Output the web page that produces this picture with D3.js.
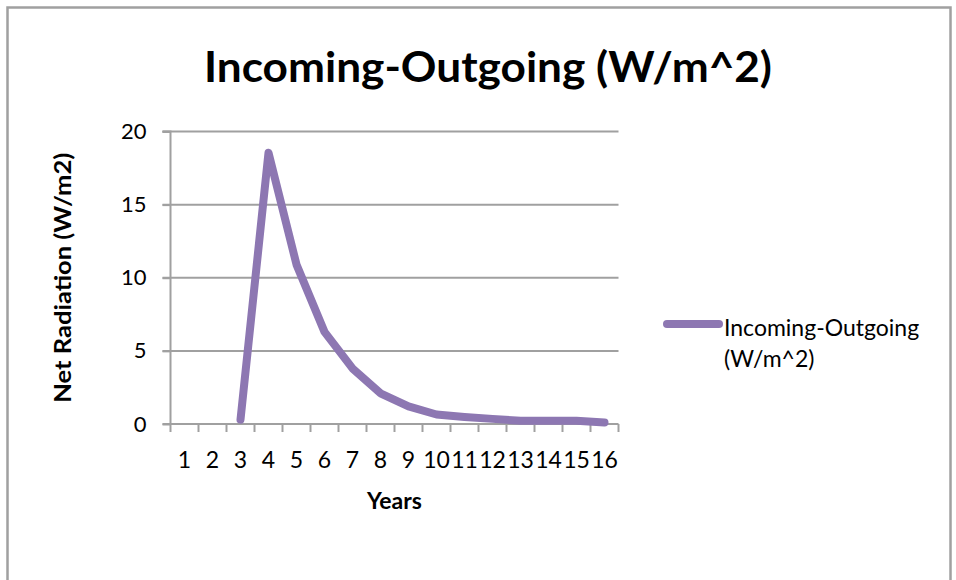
<!DOCTYPE html>
<html>
<head>
<meta charset="utf-8">
<script src="https://cdn.jsdelivr.net/npm/d3@7"></script>
<style>
  html, body { margin: 0; padding: 0; background: #fff; }
  svg { display: block; }
  text { font-family: Lato, "Open Sans", sans-serif; fill: #000; }
</style>
</head>
<body>
<svg id="chart" width="956" height="580"></svg>
<script>
const categories = ["1","2","3","4","5","6","7","8","9","10","11","12","13","14","15","16"];
const values = [null, null, 0.3, 18.55, 10.9, 6.3, 3.8, 2.1, 1.2, 0.65, 0.48, 0.35, 0.22, 0.22, 0.22, 0.1];
const yTicks = [0, 5, 10, 15, 20];
const title = "Incoming-Outgoing (W/m^2)";
const seriesName = ["Incoming-Outgoing", "(W/m^2)"];
const xTitle = "Years";
const yTitle = "Net Radiation (W/m2)";

const svg = d3.select("#chart");
const lineColor = "#8d77b2";
const gridColor = "#a0a0a0";

// outer frame
svg.append("rect").attr("x", 7.5).attr("y", 7.5).attr("width", 943).attr("height", 620)
  .attr("fill", "none").attr("stroke", gridColor).attr("stroke-width", 2.5);

const plotL = 170.5, plotR = 618.5, plotT = 131.5, plotB = 424;
const x = d3.scaleBand().domain(categories).range([plotL, plotR]).padding(0);
const y = d3.scaleLinear().domain([0, 20]).range([plotB, plotT]);

// title
svg.append("text").attr("x", 488).attr("y", 82).attr("text-anchor", "middle")
  .attr("font-size", 42).attr("font-weight", 700)
  .attr("textLength", 568).attr("lengthAdjust", "spacingAndGlyphs")
  .text(title);

// gridlines
svg.append("g").selectAll("line").data(yTicks.filter(d => d > 0)).join("line")
  .attr("x1", plotL - 8).attr("x2", plotR)
  .attr("y1", d => y(d)).attr("y2", d => y(d))
  .attr("stroke", gridColor).attr("stroke-width", 2);

// y axis
const yAxis = d3.axisLeft(y).tickValues(yTicks).tickSize(8).tickPadding(16);
const gy = svg.append("g").attr("transform", `translate(${plotL},0)`).call(yAxis);
gy.select(".domain").attr("stroke", gridColor).attr("stroke-width", 2).attr("d", `M-8,${plotT}H0V${plotB}`);
gy.selectAll(".tick line").attr("stroke", gridColor).attr("stroke-width", 2);
gy.selectAll(".tick text").attr("font-size", 22).attr("font-family", "Lato").attr("fill", "#000");

// x axis
const xAxis = d3.axisBottom(x).tickSize(0).tickPadding(28);
const gx = svg.append("g").attr("transform", `translate(0,${plotB})`).call(xAxis);
gx.select(".domain").attr("stroke", gridColor).attr("stroke-width", 2).attr("d", `M${plotL - 8},0H${plotR}`);
gx.selectAll(".tick text").attr("font-size", 23).attr("font-family", "Lato").attr("fill", "#000");
// x tick marks at category boundaries
const boundaries = categories.map(c => x(c)).concat([x(categories[categories.length - 1]) + x.bandwidth()]);
gx.append("g").selectAll("line").data(boundaries).join("line")
  .attr("x1", d => d).attr("x2", d => d).attr("y1", 0).attr("y2", 8)
  .attr("stroke", gridColor).attr("stroke-width", 2);

// line
const line = d3.line()
  .defined(d => d.v !== null)
  .x(d => x(d.c) + x.bandwidth() / 2)
  .y(d => y(d.v));
svg.append("path")
  .datum(categories.map((c, i) => ({ c, v: values[i] })))
  .attr("d", line)
  .attr("fill", "none").attr("stroke", lineColor).attr("stroke-width", 8)
  .attr("stroke-linecap", "round").attr("stroke-linejoin", "round");

// axis titles
svg.append("text").attr("x", (plotL + plotR) / 2).attr("y", 509).attr("text-anchor", "middle")
  .attr("font-size", 23).attr("font-weight", 700).text(xTitle);
svg.append("text").attr("transform", `translate(71,${(plotT + plotB) / 2}) rotate(-90)`)
  .attr("text-anchor", "middle").attr("font-size", 23).attr("font-weight", 700)
  .attr("textLength", 250).attr("lengthAdjust", "spacingAndGlyphs")
  .text(yTitle);

// legend
svg.append("line").attr("x1", 667).attr("x2", 719).attr("y1", 324).attr("y2", 324)
  .attr("stroke", lineColor).attr("stroke-width", 8).attr("stroke-linecap", "round");
const lt = svg.append("text").attr("x", 724).attr("y", 336).attr("font-size", 23);
lt.append("tspan").attr("x", 724).attr("dy", 0).text(seriesName[0]);
lt.append("tspan").attr("x", 724).attr("dy", 31).text(seriesName[1]);
</script>
</body>
</html>
